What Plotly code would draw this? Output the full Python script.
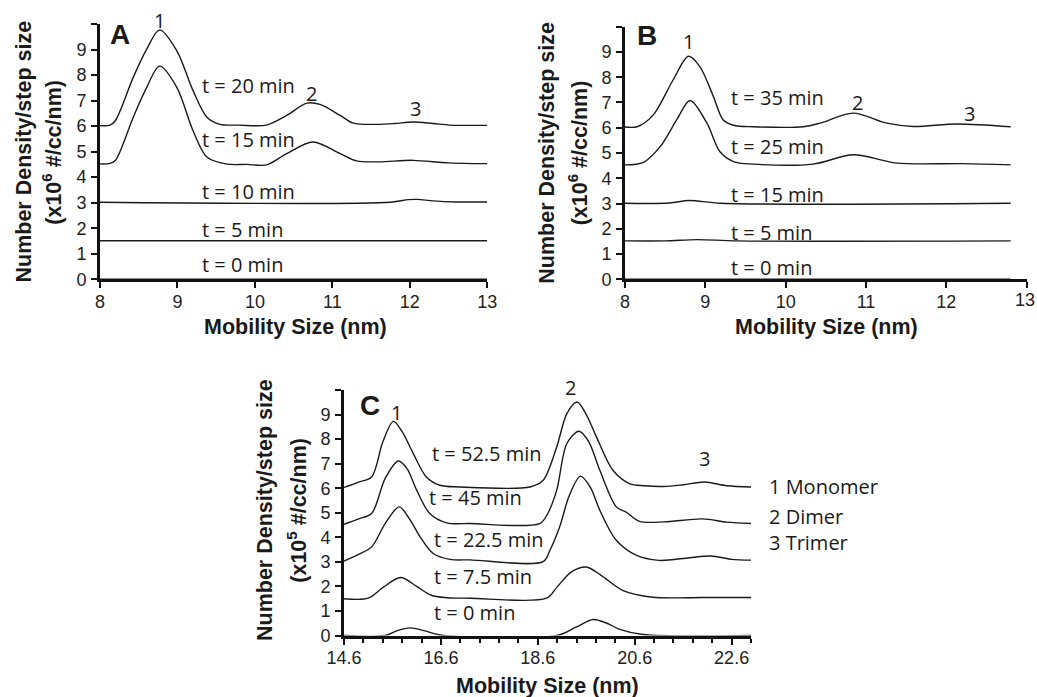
import plotly.graph_objects as go

W, H = 1037, 697

# ---------------- Panel A data (x in nm, y in 10^6 #/cc/nm, offset curves) ----------------
a_t20_x = [8.0, 8.13, 8.2, 8.43, 8.6, 8.77, 8.99, 9.2, 9.38, 9.55, 9.8, 10.15, 10.41, 10.67, 10.84, 11.1, 11.27, 11.57, 11.8, 12.04, 12.3, 12.52, 13.0]
a_t20_y = [6.02, 6.04, 6.22, 7.92, 9.0, 9.77, 8.96, 7.4, 6.35, 6.07, 6.04, 6.04, 6.42, 6.9, 6.85, 6.42, 6.12, 6.07, 6.1, 6.16, 6.1, 6.04, 6.03]
a_t15_x = [8.0, 8.13, 8.2, 8.43, 8.6, 8.77, 8.99, 9.2, 9.38, 9.64, 9.9, 10.15, 10.41, 10.75, 11.1, 11.31, 11.6, 12.04, 12.5, 13.0]
a_t15_y = [4.52, 4.54, 4.66, 6.35, 7.5, 8.35, 7.53, 5.83, 4.79, 4.51, 4.5, 4.48, 4.92, 5.38, 4.92, 4.64, 4.6, 4.66, 4.56, 4.53]
a_t10_x = [8.0, 11.75, 11.98, 12.1, 12.3, 12.6, 13.0]
a_t10_y = [3.02, 3.02, 3.12, 3.13, 3.07, 3.03, 3.03]
a_t5_x = [8.0, 13.0]
a_t5_y = [1.51, 1.51]
a_t0_x = [8.0, 13.0]
a_t0_y = [0.0, 0.0]

# ---------------- Panel B data ----------------
b_t35_x = [8.0, 8.15, 8.35, 8.6, 8.79, 8.93, 9.1, 9.22, 9.35, 9.6, 10.22, 10.43, 10.84, 11.26, 11.59, 12.13, 12.8]
b_t35_y = [6.03, 6.04, 6.5, 7.9, 8.83, 8.43, 7.24, 6.32, 6.1, 6.04, 6.04, 6.18, 6.58, 6.18, 6.05, 6.15, 6.04]
b_t25_x = [8.0, 8.23, 8.44, 8.65, 8.81, 9.02, 9.18, 9.35, 9.6, 10.34, 10.84, 11.38, 12.2, 12.8]
b_t25_y = [4.53, 4.63, 5.26, 6.35, 7.08, 6.18, 5.06, 4.66, 4.56, 4.56, 4.93, 4.6, 4.58, 4.53]
b_t15_x = [8.0, 8.55, 8.8, 9.2, 12.8]
b_t15_y = [3.01, 3.02, 3.12, 3.01, 3.01]
b_t5_x = [8.0, 8.5, 8.9, 9.4, 12.8]
b_t5_y = [1.52, 1.52, 1.57, 1.52, 1.52]
b_t0_x = [8.0, 12.8]
b_t0_y = [0.0, 0.0]

# ---------------- Panel C data (y in 10^5 #/cc/nm) ----------------
c_t525_x = [14.6, 14.9, 15.17, 15.4, 15.62, 15.8, 16.03, 16.3, 16.58, 17.0, 18.44, 18.71, 18.99, 19.2, 19.41, 19.6, 19.81, 20.15, 20.49, 20.8, 21.2, 21.6, 22.04, 22.5, 23.0]
c_t525_y = [6.03, 6.25, 6.46, 7.88, 8.72, 8.3, 7.41, 6.46, 6.12, 6.05, 6.05, 6.32, 7.68, 9.04, 9.51, 9.0, 8.09, 6.73, 6.19, 6.1, 6.07, 6.14, 6.25, 6.1, 6.05]
c_t45_x = [14.6, 14.9, 15.17, 15.45, 15.72, 15.9, 16.1, 16.37, 16.72, 17.2, 18.64, 18.8, 18.99, 19.2, 19.45, 19.65, 19.88, 20.22, 20.42, 20.7, 21.2, 22.0, 22.5, 23.0]
c_t45_y = [4.53, 4.75, 4.97, 6.4, 7.11, 6.8, 5.92, 4.97, 4.59, 4.56, 4.56, 4.95, 5.92, 7.82, 8.32, 7.9, 6.73, 5.24, 5.03, 4.65, 4.63, 4.75, 4.62, 4.56]
c_t225_x = [14.6, 14.9, 15.17, 15.45, 15.74, 15.95, 16.17, 16.44, 16.79, 17.2, 18.71, 18.85, 19.05, 19.25, 19.48, 19.68, 19.88, 20.22, 20.63, 21.1, 21.73, 22.17, 22.6, 23.0]
c_t225_y = [3.03, 3.3, 3.61, 4.56, 5.24, 4.75, 4.02, 3.34, 3.1, 3.08, 3.01, 3.47, 4.42, 5.7, 6.49, 6.05, 5.1, 3.88, 3.27, 3.06, 3.17, 3.24, 3.1, 3.07]
c_t75_x = [14.6, 15.1, 15.4, 15.77, 16.1, 16.4, 16.72, 17.2, 18.78, 19.0, 19.3, 19.6, 19.9, 20.35, 20.97, 22.0, 23.0]
c_t75_y = [1.5, 1.52, 1.95, 2.36, 2.0, 1.64, 1.54, 1.52, 1.52, 1.98, 2.6, 2.79, 2.46, 1.84, 1.56, 1.55, 1.55]
c_t0_x = [14.6, 15.45, 15.7, 15.96, 16.25, 16.58, 18.99, 19.4, 19.74, 20.0, 20.29, 20.77, 23.0]
c_t0_y = [0.0, 0.0, 0.2, 0.31, 0.2, 0.02, 0.0, 0.35, 0.65, 0.52, 0.25, 0.04, 0.0]

# labels
a_time_labels = ["t = 20 min", "t = 15 min", "t = 10 min", "t = 5 min", "t = 0 min"]
a_label_y = [7.59, 5.47, 3.42, 1.95, 0.59]
b_time_labels = ["t = 35 min", "t = 25 min", "t = 15 min", "t = 5 min", "t = 0 min"]
b_label_y = [7.18, 5.26, 3.34, 1.86, 0.46]
c_time_labels = ["t = 52.5 min", "t = 45 min", "t = 22.5 min", "t = 7.5 min", "t = 0 min"]
c_label_x = [16.37, 16.32, 16.41, 16.41, 16.41]
c_label_y = [7.41, 5.64, 3.91, 2.39, 0.92]
peak_labels = ["1", "2", "3"]
a_peak_x = [8.77, 10.73, 12.07]
a_peak_y = [10.13, 7.27, 6.68]
b_peak_x = [8.79, 10.9, 12.29]
b_peak_y = [9.42, 6.98, 6.58]
c_peak_x = [15.69, 19.27, 22.05]
c_peak_y = [9.1, 10.1, 7.2]
legend_text = ["1 Monomer", "2 Dimer", "3 Trimer"]

a_xticks = [8, 9, 10, 11, 12, 13]
b_xticks = [8, 9, 10, 11, 12, 13]
b_xticklabels = ["8", "9", "10", "11", "12", ""]
c_xticks = [14.6, 16.6, 18.6, 20.6, 22.6]
c_xticklabels = ["14.6", "16.6", "18.6", "20.6", "22.6"]
y_ticks = [0, 1, 2, 3, 4, 5, 6, 7, 8, 9, 10]
y_ticklabels = ["0", "1", "2", "3", "4", "5", "6", "7", "8", "9", ""]

LINE = dict(color="#1a1a1a", width=1.4)
ARIAL = "Liberation Sans, Arial, sans-serif"
CAL = "Open Sans, Lato, sans-serif"
TICKSIZE = 18

# pixel geometry of the three panels: (x0px, x1px, y0px(bottom), y1px(top), xrange, yrange)
PANELS = {
    "A": (100, 487.3, 279.3, 24, [8, 13], [0, 10]),
    "B": (625, 1026.7, 279.3, 26.7, [8, 13], [0, 10]),
    "C": (344, 751, 635.5, 390, [14.6, 23.0], [0, 10]),
}

fig = go.Figure()

def add(xs, ys, xa, ya):
    fig.add_trace(go.Scatter(x=xs, y=ys, mode="lines", line=dict(shape="spline", smoothing=0.9, **LINE),
                             xaxis=xa, yaxis=ya, showlegend=False, hoverinfo="skip"))

for xs, ys in [(a_t20_x, a_t20_y), (a_t15_x, a_t15_y), (a_t10_x, a_t10_y), (a_t5_x, a_t5_y), (a_t0_x, a_t0_y)]:
    add(xs, ys, "x", "y")
for xs, ys in [(b_t35_x, b_t35_y), (b_t25_x, b_t25_y), (b_t15_x, b_t15_y), (b_t5_x, b_t5_y), (b_t0_x, b_t0_y)]:
    add(xs, ys, "x2", "y2")
for xs, ys in [(c_t525_x, c_t525_y), (c_t45_x, c_t45_y), (c_t225_x, c_t225_y), (c_t75_x, c_t75_y), (c_t0_x, c_t0_y)]:
    add(xs, ys, "x3", "y3")

def px(x):
    return x / W

def py(y):
    return 1 - y / H

def to_paper(panel, xv, yv):
    x0, x1, yb, yt, xr, yr = PANELS[panel]
    xp = x0 + (xv - xr[0]) / (xr[1] - xr[0]) * (x1 - x0)
    yp = yb - (yv - yr[0]) / (yr[1] - yr[0]) * (yb - yt)
    return px(xp), py(yp)

def xaxis_cfg(panel, tickvals, ticktext=None, anchor="y"):
    x0, x1, yb, yt, xr, yr = PANELS[panel]
    d = dict(domain=[px(x0), px(x1)], range=xr, anchor=anchor, showgrid=False, zeroline=False,
             automargin=False, showline=True, linecolor="#111", linewidth=3, ticks="outside",
             ticklen=6, tickwidth=2, tickcolor="#111", tickvals=tickvals,
             tickfont=dict(family=ARIAL, size=TICKSIZE, color="#222"), ticklabelstandoff=-2)
    if ticktext is not None:
        d["ticktext"] = ticktext
    return d

def yaxis_cfg(panel, anchor):
    x0, x1, yb, yt, xr, yr = PANELS[panel]
    return dict(domain=[py(yb), py(yt)], range=yr, anchor=anchor, showgrid=False, zeroline=False,
                automargin=False, showline=True, linecolor="#111", linewidth=3, ticks="outside",
                ticklen=6, tickwidth=2, tickcolor="#111", tickvals=y_ticks, ticktext=y_ticklabels,
                tickfont=dict(family=ARIAL, size=TICKSIZE, color="#222"), ticklabelstandoff=1)

fig.update_layout(
    template="none",
    width=W, height=H, margin=dict(l=0, r=0, t=0, b=0, pad=0), autosize=False,
    paper_bgcolor="white", plot_bgcolor="white", showlegend=False,
    xaxis=xaxis_cfg("A", a_xticks, anchor="y"),
    yaxis=yaxis_cfg("A", "x"),
    xaxis2=xaxis_cfg("B", b_xticks, b_xticklabels, anchor="y2"),
    yaxis2=yaxis_cfg("B", "x2"),
    xaxis3=xaxis_cfg("C", c_xticks, c_xticklabels, anchor="y3"),
    yaxis3=yaxis_cfg("C", "x3"),
)
fig.layout.xaxis3.minor = dict(tick0=14.6, dtick=0.4, ticks="outside", ticklen=4, tickwidth=1.5, tickcolor="#111")

ann = []

def txt(x, y, s, xref="paper", yref="paper", size=20, family=CAL, bold=False, xanchor="center", angle=0, color="#1a1a1a"):
    if bold:
        s = "<b>" + s + "</b>"
    ann.append(dict(x=x, y=y, xref=xref, yref=yref, text=s, showarrow=False, xanchor=xanchor,
                    yanchor="middle", textangle=angle, font=dict(family=family, size=size, color=color)))

for s, yv in zip(a_time_labels, a_label_y):
    xp, yp = to_paper("A", 9.29, yv)
    txt(xp, yp, s, xanchor="left")
for s, yv in zip(b_time_labels, b_label_y):
    xp, yp = to_paper("B", 9.29, yv)
    txt(xp, yp, s, xanchor="left")
for s, xv, yv in zip(c_time_labels, c_label_x, c_label_y):
    xp, yp = to_paper("C", xv, yv)
    txt(xp, yp, s, xanchor="left")
for panel, xs, ys in [("A", a_peak_x, a_peak_y), ("B", b_peak_x, b_peak_y), ("C", c_peak_x, c_peak_y)]:
    for s, xv, yv in zip(peak_labels, xs, ys):
        xp, yp = to_paper(panel, xv, yv)
        txt(xp, yp, s)
for s, yp in zip(legend_text, [486.7, 516, 542.7]):
    txt(px(767), py(yp), s, xanchor="left")

# last x tick label of panel B (sits at the right edge of the page)
ann.append(dict(x=px(1036.5), y=py(300), xref="paper", yref="paper", text="13", showarrow=False,
                xanchor="right", yanchor="middle", font=dict(family=ARIAL, size=TICKSIZE, color="#222")))

# panel letters
txt(px(120), py(35), "A", size=28, family=ARIAL, bold=True)
txt(px(647), py(36), "B", size=28, family=ARIAL, bold=True)
txt(px(370), py(405), "C", size=28, family=ARIAL, bold=True)

# axis titles
for (x1, x2, yc, exp) in [(23.5, 51.7, 152, "6"), (546.7, 578.3, 153, "6"), (265, 296.7, 510, "5")]:
    txt(px(x1), py(yc), "Number Density/step size", size=21.5, family=ARIAL, bold=True, angle=-90)
    txt(px(x2), py(yc), "(x10<sup>" + exp + "</sup> #/cc/nm)", size=21.5, family=ARIAL, bold=True, angle=-90)
for (xc, yc) in [(295, 327), (826, 327), (547.5, 686)]:
    txt(px(xc), py(yc), "Mobility Size (nm)", size=21.5, family=ARIAL, bold=True)

fig.update_layout(annotations=ann)
fig.write_html(
    "out.html",
    config={"displayModeBar": False},
    post_script="document.body.style.margin='0px';document.body.style.overflow='hidden';",
)
